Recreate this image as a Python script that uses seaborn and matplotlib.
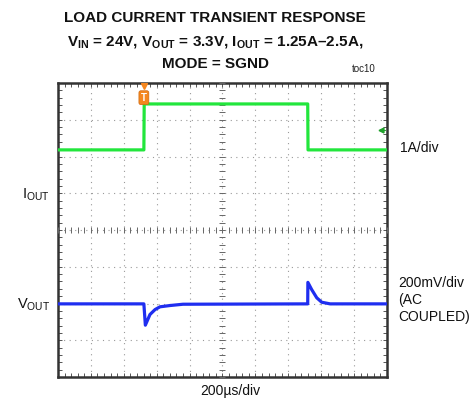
import numpy as np
import pandas as pd
import matplotlib
matplotlib.use("Agg")
import matplotlib.pyplot as plt
import seaborn as sns

# ---- data ----
time_i_us = [0, 522, 524, 1518, 1520, 2000]
iout_A = [1.25, 1.25, 2.5, 2.5, 1.25, 1.25]

time_v_us = [0, 522, 531, 559, 590, 620, 681, 760, 1518, 1519, 1542, 1573, 1603, 1654, 2000]
vout_mV = [0, 0, -116, -58, -31, -16, -9, -2, 0, 117, 78, 33, 9, 0, 0]

trigger_us = 522
trigger_level_A = 1.79

# scope scaling
US_PER_DIV = 200
A_PER_DIV = 1.0
MV_PER_DIV = 200
IOUT_ZERO_DIV = 0.93
VOUT_ZERO_DIV = -2.01

sns.set_theme(style="white")
FAM = ["Liberation Sans Narrow", "Liberation Sans", "DejaVu Sans"]
plt.rcParams["font.family"] = FAM
plt.rcParams["mathtext.fontset"] = "custom"
plt.rcParams["mathtext.rm"] = "Liberation Sans"
plt.rcParams["mathtext.bf"] = "Liberation Sans:bold"

W, H = 471, 404
fig = plt.figure(figsize=(W / 100, H / 100), dpi=100)
L, R, T, B = 58, 387, 83, 377
ax = fig.add_axes([L / W, 1 - B / H, (R - L) / W, (B - T) / H])

df_i = pd.DataFrame({"t": time_i_us, "y": [v / A_PER_DIV + IOUT_ZERO_DIV for v in iout_A]})
df_v = pd.DataFrame({"t": time_v_us, "y": [v / MV_PER_DIV + VOUT_ZERO_DIV for v in vout_mV]})

sns.lineplot(data=df_i, x="t", y="y", ax=ax, color="#22e63c", lw=2.3, sort=False, zorder=5)
sns.lineplot(data=df_v, x="t", y="y", ax=ax, color="#1f2ef0", lw=2.3, sort=False, zorder=5)

ax.set_xlim(0, 10 * US_PER_DIV)
ax.set_ylim(-4, 4)
ax.set_xticks(np.arange(0, 10 * US_PER_DIV + 1, US_PER_DIV))
ax.set_yticks(np.arange(-4, 5, 1))
ax.set_xticks(np.arange(0, 10 * US_PER_DIV + 1, US_PER_DIV / 5), minor=True)
ax.set_yticks(np.arange(-4, 4.01, 0.2), minor=True)
ax.grid(True, which="major", color="#9a9a9a", lw=0.8, ls=(0, (1, 4)))
ax.tick_params(which="both", direction="in", top=True, right=True, bottom=True, left=True,
               length=3, width=0.7, color="#555555", labelbottom=False, labelleft=False)
ax.set_xlabel("")
ax.set_ylabel("")
for s in ax.spines.values():
    s.set_color("#333333")
    s.set_linewidth(1.8)

# center graticule crossing ticks
cx = 5 * US_PER_DIV
xt = np.arange(0, 10 * US_PER_DIV + 1, US_PER_DIV / 5)
yt = np.arange(-4, 4.01, 0.2)
ax.plot(xt, np.zeros_like(xt), ls="none", marker="|", ms=5, mew=0.7, color="#666666", zorder=3)
ax.plot(np.full_like(yt, cx), yt, ls="none", marker="_", ms=5, mew=0.7, color="#666666", zorder=3)

# trigger markers
ax.plot([trigger_us], [3.93], marker="v", ms=5, color="#f5871f", ls="none", zorder=7)
ax.text(trigger_us, 3.6, "T", ha="center", va="center", fontsize=7, color="white",
        fontweight="bold", zorder=8,
        bbox=dict(boxstyle="round,pad=0.2", fc="#f5871f", ec="#d06a10", lw=0.5))
ax.plot([1962], [trigger_level_A / A_PER_DIV + IOUT_ZERO_DIV], marker="<", ms=3.5,
        color="#1ea02a", ls="none", zorder=7)
ax.plot([1962, 1990], [trigger_level_A / A_PER_DIV + IOUT_ZERO_DIV] * 2, color="#1ea02a", lw=0.8, zorder=7)


def px(x, y):
    return x / W, 1 - y / H


# title
TS = 11
fig.text(*px(215, 18), "LOAD CURRENT TRANSIENT RESPONSE", ha="center", va="center",
         fontsize=TS, fontweight="bold", color="#111111")
fig.text(*px(215, 43), r"V$_{\mathbf{IN}}$ = 24V, V$_{\mathbf{OUT}}$ = 3.3V, I$_{\mathbf{OUT}}$ = 1.25A–2.5A,",
         ha="center", va="center", fontsize=TS, fontweight="bold", color="#111111")
fig.text(*px(215, 64), "MODE = SGND", ha="center", va="center",
         fontsize=TS, fontweight="bold", color="#111111")
fig.text(*px(364, 69), "toc10", ha="center", va="center", fontsize=7, color="#222222")

# side labels
LS = 10
fig.text(*px(50, 195), r"I$_{\mathrm{OUT}}$", ha="right", va="center", fontsize=LS + 0.5, color="#111111")
fig.text(*px(50, 305), r"V$_{\mathrm{OUT}}$", ha="right", va="center", fontsize=LS + 0.5, color="#111111")
fig.text(*px(400, 148), "1A/div", ha="left", va="center", fontsize=LS, color="#111111")
fig.text(*px(398, 283), "200mV/div", ha="left", va="center", fontsize=LS, color="#111111")
fig.text(*px(398, 300), "(AC", ha="left", va="center", fontsize=LS, color="#111111")
fig.text(*px(398, 317), "COUPLED)", ha="left", va="center", fontsize=LS, color="#111111")
fig.text(*px(230, 391), "200µs/div", ha="center", va="center", fontsize=LS, color="#111111")

fig.savefig("out.png", dpi=100, facecolor="white")
